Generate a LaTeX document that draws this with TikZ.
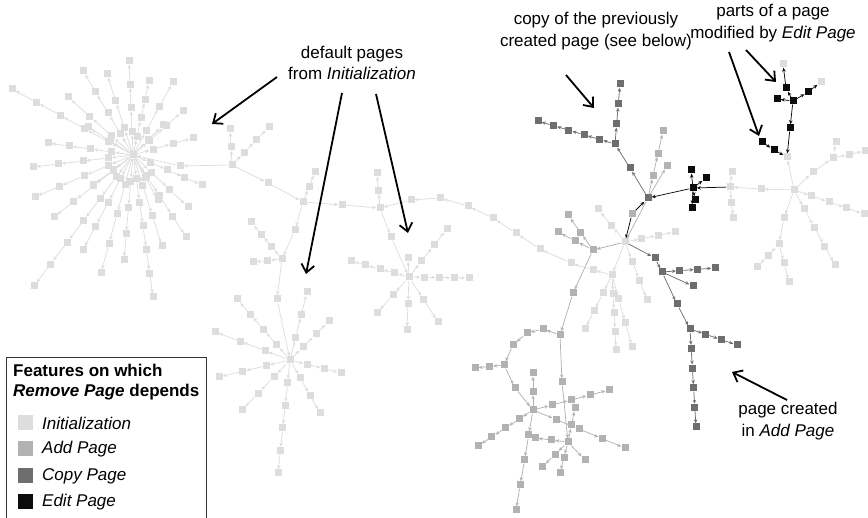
\documentclass[tikz,border=0pt]{standalone}
\usepackage{fontspec}
\setmainfont{Liberation Sans}
\usetikzlibrary{arrows.meta}
\definecolor{cI}{RGB}{221,221,221}
\definecolor{cA}{RGB}{178,178,178}
\definecolor{cC}{RGB}{110,110,110}
\definecolor{cE}{RGB}{12,12,12}
\tikzset{
  pg/.style={rectangle, minimum size=7pt, inner sep=0pt, fill=#1, draw=none},
  ed/.style={draw=#1, line width=0.75pt, -{Stealth[length=4pt,width=3.5pt]}},
  annot/.style={font=\fontsize{17}{21.5}\selectfont, align=center, inner sep=0pt},
  callout/.style={draw=black, line width=1.8pt, -{Straight Barb[length=8pt,width=13pt,line width=1.8pt]}},
  legtxt/.style={font=\fontsize{17}{20}\selectfont, anchor=west, inner sep=0pt},
  legsq/.style={rectangle, minimum size=15pt, inner sep=0pt, fill=#1, draw=none}
}
\newcommand\mystar[5]{%
  \foreach \ddx/\ddy/\nn [count=\rr] in {#5} {%
    \foreach \kk in {1,...,\nn} {%
      \pgfmathtruncatemacro\pk{\kk-1}%
      \node[pg=#4] (#1-\rr-\kk) at ({#2+(\ddx)*\kk/\nn},{#3+(\ddy)*\kk/\nn}) {};%
      \ifnum\kk=1 \draw[ed=#4] (#1) -- (#1-\rr-\kk);\else \draw[ed=#4] (#1-\rr-\pk) -- (#1-\rr-\kk);\fi
    }%
  }%
}
\begin{document}
\begin{tikzpicture}[x=1pt,y=-1pt]
\useasboundingbox (0,0) rectangle (868,518);
% ---------------- Initialization clusters (left) ----------------
\node[pg=cI] (A) at (133,155) {};
\mystar{A}{133}{155}{cI}{-4/-94/4, -50/-84/4, -26/-81/3, 16/-74/4, 40/-73/3, -121/-66/5, 50/-44/3, -65/-58/3, 60/-17/3, -85/-12/4, -100/12/4, 69/30/4, -98/42/4, 55/52/3, -79/62/4, 53/82/4, 29/91/3, -50/95/4, -99/131/6, -32/118/4, -9/105/4, 20/142/6, -45/-28/2, 30/-30/2, -40/30/2, 25/45/2}
\node[pg=cI] (B) at (232,165) {};
\node[pg=cI] (ab) at (180,166) {};
\draw[ed=cI] (B) -- (ab);
\draw[ed=cI] (ab) -- (A);
\mystar{B}{232}{165}{cI}{-2/-36/2, 37/-38/3}
\node[pg=cI] (bc) at (268,183) {};
\node[pg=cI] (C) at (303,202) {};
\draw[ed=cI] (B) -- (bc);
\draw[ed=cI] (bc) -- (C);
\mystar{C}{303}{202}{cI}{12/-30/2}
\node[pg=cI] (cd) at (295,230) {};
\node[pg=cI] (D) at (282,259) {};
\draw[ed=cI] (C) -- (cd);
\draw[ed=cI] (cd) -- (D);
\mystar{D}{282}{259}{cI}{-31/-37/3, -29/3/2}
\node[pg=cI] (df) at (277,299) {};
\node[pg=cI] (F) at (290,360) {};
\draw[ed=cI] (D) -- (df);
\draw[ed=cI] (df) -- (F);
\mystar{F}{290}{360}{cI}{17/-68/3, 39/-39/3, -53/-61/4, -75/-28/3, 51/13/3, -71/17/3, -48/50/3, 30/53/3, -12/113/5}
\node[pg=cI] (ce) at (342,205) {};
\node[pg=cI] (E) at (380,208) {};
\draw[ed=cI] (C) -- (ce);
\draw[ed=cI] (ce) -- (E);
\mystar{E}{380}{208}{cI}{-3/-35/2}
\node[pg=cI] (eg) at (391,237) {};
\node[pg=cI] (G) at (409,277) {};
\draw[ed=cI] (E) -- (eg);
\draw[ed=cI] (eg) -- (G);
\mystar{G}{409}{277}{cI}{60/1/4, 38/-48/3, -1/-19/1, -58/-16/4, -32/36/2, -2/53/2, 29/45/2}
% ---------------- right part ----------------
\node[pg=cI] (H) at (625,242) {};
\node[pg=cI] (I) at (612,275) {};
\draw[ed=cI] (H) -- (I);
\node[pg=cI] (h0) at (593,270) {};
\node[pg=cI] (h1) at (571,263) {};
\node[pg=cI] (h2) at (540,249) {};
\node[pg=cI] (h3) at (516,233) {};
\node[pg=cI] (h4) at (493,218) {};
\node[pg=cI] (h5) at (468,206) {};
\node[pg=cI] (h6) at (440,198) {};
\node[pg=cI] (h7) at (411,200) {};
\draw[ed=cI] (I) -- (h0);
\draw[ed=cI] (h0) -- (h1);
\draw[ed=cI] (h1) -- (h2);
\draw[ed=cI] (h2) -- (h3);
\draw[ed=cI] (h3) -- (h4);
\draw[ed=cI] (h4) -- (h5);
\draw[ed=cI] (h5) -- (h6);
\draw[ed=cI] (h6) -- (h7);
\draw[ed=cI] (h7) -- (E);
\mystar{I}{612}{275}{cI}{-27/54/3, 4/75/4, 20/72/3}
\mystar{H}{625}{242}{cI}{50/-10/3, 22/58/3, -27/-33/2}
% Add Page
\node[pg=cA] (J) at (593,250) {};
\draw[ed=cA] (H) -- (J);
\mystar{J}{593}{250}{cA}{-25/-35/2, -35/-18/2}
\node[pg=cA] (jk) at (573,293) {};
\node[pg=cA] (K) at (560,335) {};
\draw[ed=cA] (J) -- (jk);
\draw[ed=cA] (jk) -- (K);
\node[pg=cA] (k1) at (543,329) {};
\node[pg=cA] (k2) at (527,333) {};
\node[pg=cA] (k3) at (513,345) {};
\node[pg=cA] (L) at (504,365) {};
\draw[ed=cA] (K) -- (k1);
\draw[ed=cA] (k1) -- (k2);
\draw[ed=cA] (k2) -- (k3);
\draw[ed=cA] (k3) -- (L);
\mystar{L}{504}{365}{cA}{-29/3/2}
\node[pg=cA] (l1) at (515,388) {};
\node[pg=cA] (M) at (533,410) {};
\draw[ed=cA] (L) -- (l1);
\draw[ed=cA] (l1) -- (M);
\mystar{M}{533}{410}{cA}{0/-37/2, 76/-20/4, 92/38/4, -55/36/4, -17/100/4}
\node[pg=cA] (kn) at (562,382) {};
\node[pg=cA] (N) at (568,442) {};
\draw[ed=cA] (K) -- (kn);
\draw[ed=cA] (kn) -- (N);
\mystar{N}{568}{442}{cA}{-33/-4/2, 7/-34/2, -8/31/2, 17/18/1, -26/25/2}
% Copy Page
\node[pg=cA] (Z) at (632,214) {};
\node[pg=cC] (P) at (648,198) {};
\draw[ed=cE] (Z) -- (P);
\draw[ed=cE] (Z) -- (H);
\draw[ed=cA] (P) -- (H);
\node[pg=cC] (pq) at (630,168) {};
\node[pg=cC] (Q) at (615,144) {};
\draw[ed=cC] (P) -- (pq);
\draw[ed=cC] (pq) -- (Q);
\mystar{Q}{615}{144}{cC}{5/-60/3, -77/-23/5}
\mystar{P}{648}{198}{cA}{15/-67/3, 19/-32/1}
\node[pg=cC] (hr) at (655,258) {};
\node[pg=cC] (R) at (662,272) {};
\draw[ed=cC] (H) -- (hr);
\draw[ed=cC] (hr) -- (R);
\mystar{R}{662}{272}{cC}{53/-4/3, 31/14/1}
\node[pg=cC] (rs) at (677,304) {};
\node[pg=cC] (S) at (690,329) {};
\draw[ed=cC] (R) -- (rs);
\draw[ed=cC] (rs) -- (S);
\mystar{S}{690}{329}{cC}{47/16/3, 6/98/5}
% right star
\node[pg=cI] (U) at (794,190) {};
\node[pg=cI] (uv) at (761,189) {};
\node[pg=cI] (V) at (730,187) {};
\draw[ed=cI] (U) -- (uv);
\draw[ed=cI] (uv) -- (V);
\mystar{V}{730}{187}{cI}{2/-15/1, 3/31/2}
\node[pg=cE] (T) at (693,188) {};
\draw[ed=cE] (V) -- (T);
\draw[ed=cE] (T) -- (P);
\mystar{T}{693}{188}{cE}{-2/-18/1, 13/-10/1, 2/12/1, -1/20/1}
\node[pg=cI] (ua) at (813,172) {};
\node[pg=cI] (ub) at (833,158) {};
\draw[ed=cI] (U) -- (ua);
\draw[ed=cI] (ua) -- (ub);
\mystar{ub}{833}{158}{cI}{3/-16/1, 32/-7/2}
\mystar{U}{794}{190}{cI}{70/24/4, 41/75/4}
\node[pg=cI] (u1) at (784,218) {};
\node[pg=cI] (uc) at (779,244) {};
\draw[ed=cI] (U) -- (u1);
\draw[ed=cI] (u1) -- (uc);
\mystar{uc}{779}{244}{cI}{-22/23/2, 10/38/2}
% Edit Page
\node[pg=cI] (W) at (787,157) {};
\draw[ed=cI] (U) -- (W);
\node[pg=cE] (X) at (793,101) {};
\node[pg=cE] (x1) at (790,128) {};
\draw[ed=cE] (X) -- (x1);
\draw[ed=cE] (x1) -- (W);
\node[pg=cE] (xa) at (786,88) {};
\node[pg=cI] (xb) at (783,64) {};
\node[pg=cE] (xc) at (777,99) {};
\node[pg=cE] (xd) at (808,92) {};
\node[pg=cI] (xe) at (821,82) {};
\draw[ed=cE] (X) -- (xa);
\draw[ed=cE] (xa) -- (xb);
\draw[ed=cE] (X) -- (xc);
\draw[ed=cE] (X) -- (xd);
\draw[ed=cE] (xd) -- (xe);
\node[pg=cE] (e1) at (762,142) {};
\node[pg=cE] (e2) at (774,150) {};
\draw[ed=cE] (e1) -- (e2);
\draw[ed=cE] (e2) -- (W);
% ---------------- annotations ----------------
\node[annot] (t1) at (352,63) {default pages\\from \textit{Initialization}};
\node[annot] (t2) at (596,31) {copy of the previously\\created page (see below)};
\node[annot] (t3) at (773,23) {parts of a page\\modified by \textit{Edit Page}};
\node[annot] (t4) at (788,421) {page created\\in \textit{Add Page}};
\coordinate (a1s) at (277,77);
\coordinate (a1e) at (212,124);
\coordinate (a2s) at (342,93);
\coordinate (a2e) at (306,274);
\coordinate (a3s) at (376,94);
\coordinate (a3e) at (408,233);
\coordinate (a4s) at (566,75);
\coordinate (a4e) at (594,108);
\coordinate (a5s) at (729,52);
\coordinate (a5e) at (759,136);
\coordinate (a6s) at (746,50);
\coordinate (a6e) at (776,82);
\coordinate (a7s) at (787,400);
\coordinate (a7e) at (732,372);
\draw[callout] (a1s) -- (a1e);
\draw[callout] (a2s) -- (a2e);
\draw[callout] (a3s) -- (a3e);
\draw[callout] (a4s) -- (a4e);
\draw[callout] (a5s) -- (a5e);
\draw[callout] (a6s) -- (a6e);
\draw[callout] (a7s) -- (a7e);
% ---------------- legend ----------------
\draw[line width=1pt, draw=black!80] (6,520) -- (6,358) -- (206,358) -- (206,520);
\node[legtxt] (lg1) at (13,370) {\bfseries Features on which};
\node[legtxt] (lg2) at (13,392) {\bfseries\itshape Remove Page\/ \upshape depends};
\node[legsq=cI] (s1) at (25.5,423) {};
\node[legsq=cA] (s2) at (25.5,449) {};
\node[legsq=cC] (s3) at (25.5,476) {};
\node[legsq=cE] (s4) at (25.5,502) {};
\node[legtxt] (l1t) at (42,423) {\itshape Initialization};
\node[legtxt] (l2t) at (42,449) {\itshape Add Page};
\node[legtxt] (l3t) at (42,476) {\itshape Copy Page};
\node[legtxt] (l4t) at (42,502) {\itshape Edit Page};
\end{tikzpicture}
\end{document}
